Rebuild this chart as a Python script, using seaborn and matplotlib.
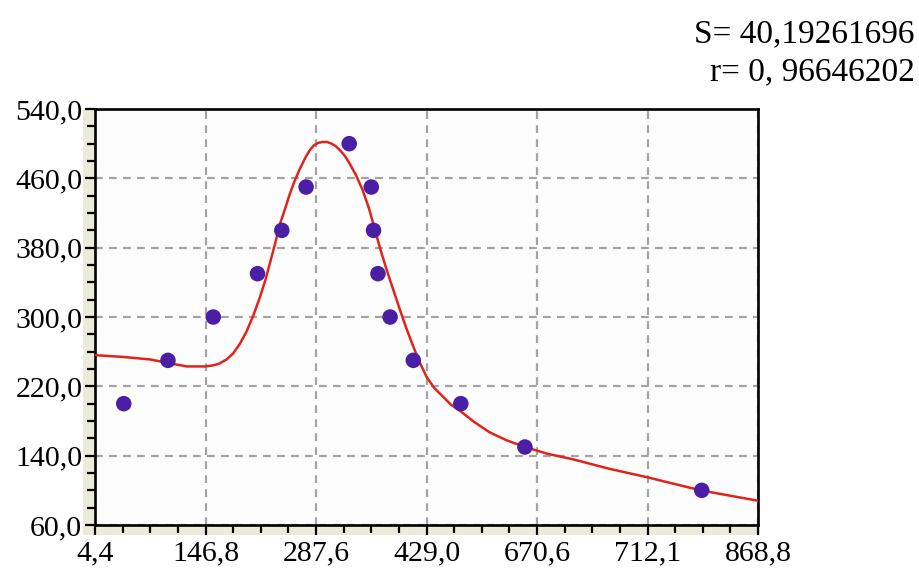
import matplotlib
matplotlib.use('Agg')
import matplotlib.pyplot as plt
import matplotlib.patches as mpatches
from matplotlib.ticker import FixedLocator, MultipleLocator
import numpy as np
import pandas as pd
import seaborn as sns

sns.set_style('ticks')
plt.rcParams['font.family'] = ['Liberation Serif', 'DejaVu Serif']
plt.rcParams['text.color'] = 'black'

# подписи оси X (шкала неравномерная, метки стоят через равный шаг)
x_labels = ['4,4', '146,8', '287,6', '429,0', '670,6', '712,1', '868,8']

# экспериментальные точки (x - позиция в долях шага между метками)
pt_x = [0.26, 0.66, 1.07, 1.47, 1.69, 1.91, 2.30, 2.50, 2.52, 2.56, 2.67, 2.88, 3.31, 3.89, 5.49]
pt_y = [200, 250, 300, 350, 400, 450, 500, 450, 400, 350, 300, 250, 200, 150, 100]

# аппроксимирующая кривая
fit_x = [0.0, 0.25, 0.5, 0.66, 0.83, 1.0, 1.06, 1.12, 1.19, 1.25, 1.31, 1.37, 1.43, 1.49,
         1.54, 1.58, 1.63, 1.67, 1.72, 1.76, 1.80, 1.85, 1.90, 1.94, 1.98, 2.02, 2.06,
         2.10, 2.14, 2.18, 2.22, 2.26, 2.30, 2.36, 2.42, 2.48, 2.53, 2.58, 2.64, 2.70,
         2.76, 2.82, 2.88, 2.94, 3.0, 3.07, 3.15, 3.22, 3.30, 3.43, 3.57, 3.72, 3.89,
         4.1, 4.32, 4.65, 5.0, 5.48, 6.0]
fit_y = [256, 254, 251, 247, 243, 243, 244, 246, 251, 258, 269, 283, 301, 322,
         342, 361, 385, 406, 425, 441, 455, 470, 483, 492, 498, 501, 502,
         502, 500, 497, 492, 486, 478, 464, 447, 425, 402, 379, 354, 331,
         308, 286, 266, 247, 231, 218, 208, 199, 192, 179, 167, 158, 150,
         142, 136, 125, 115, 100, 88]

S_text = 'S= 40,19261696'
r_text = 'r= 0, 96646202'

pts = pd.DataFrame({'x': pt_x, 'y': pt_y})
fit = pd.DataFrame({'x': fit_x, 'y': fit_y})

fig = plt.figure(figsize=(9.2, 5.69), dpi=100)
fig.patch.set_facecolor('white')
ax = fig.add_axes([0.1033, 0.0773, 0.7207, 0.7311])
ax.set_facecolor('#fdfdfd')

# бежевая полоса вдоль осей
beige = '#ecead8'
fig.patches.append(mpatches.Rectangle((83 / 920, (569 - 535) / 569), 12 / 920, 427 / 569,
                                      transform=fig.transFigure, facecolor=beige,
                                      edgecolor='none', zorder=-1))
fig.patches.append(mpatches.Rectangle((83 / 920, (569 - 535) / 569), 677 / 920, 10 / 569,
                                      transform=fig.transFigure, facecolor=beige,
                                      edgecolor='none', zorder=-1))

sns.lineplot(data=fit, x='x', y='y', ax=ax, color='#e2231a', lw=1.8, zorder=3)
sns.scatterplot(data=pts, x='x', y='y', ax=ax, color='#4b1fa5', s=125,
                edgecolor='none', zorder=4)

ax.set_xlim(0, 6)
ax.set_ylim(60, 540)
ax.xaxis.set_major_locator(FixedLocator(range(len(x_labels))))
ax.set_xticklabels(x_labels)
ax.xaxis.set_minor_locator(MultipleLocator(0.25))
y_ticks = np.arange(60, 541, 80)
ax.set_yticks(y_ticks)
ax.set_yticklabels([f'{v:.1f}'.replace('.', ',') for v in y_ticks])
ax.yaxis.set_minor_locator(MultipleLocator(20))

ax.tick_params(which='major', direction='out', length=7.2, width=1.6, labelsize=21.5,
               colors='black', labelcolor='black', pad=2)
ax.tick_params(which='minor', direction='out', length=5.5, width=1.6, colors='black')
ax.tick_params(axis='x', which='major', pad=4)

for s in ax.spines.values():
    s.set_linewidth(1.9)
    s.set_color('black')
    s.set_visible(True)

ax.grid(True, which='major', color='#a3a3a3', lw=1.6, linestyle=(0, (3.5, 2.8)))
ax.set_axisbelow(True)
ax.set_xlabel('')
ax.set_ylabel('')

fig.text(915 / 920, 1 - 42 / 569, S_text, ha='right', va='baseline', fontsize=24,
         color='black')
fig.text(915 / 920, 1 - 80 / 569, r_text, ha='right', va='baseline', fontsize=24,
         color='black')

fig.savefig('out.png', dpi=100)
